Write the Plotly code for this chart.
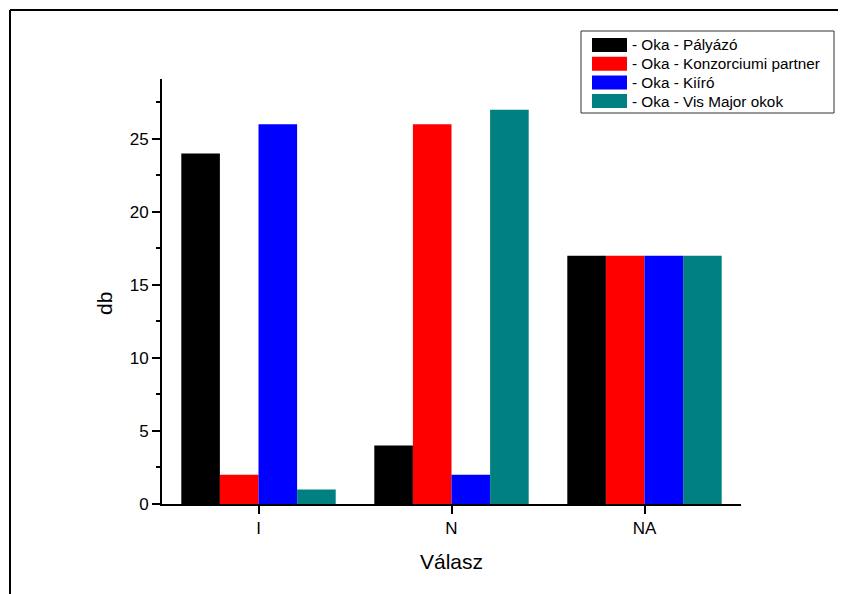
import plotly.graph_objects as go

categories = ["I", "N", "NA"]
series_names = ["- Oka - Pályázó", "- Oka - Konzorciumi partner", "- Oka - Kiíró", "- Oka - Vis Major okok"]
palyazo = [24, 4, 17]
konzorciumi = [2, 26, 17]
kiiro = [26, 2, 17]
vis_major = [1, 27, 17]
series_values = [palyazo, konzorciumi, kiiro, vis_major]
colors = ["#000000", "#FF0000", "#0000FF", "#008080"]
x_title = "Válasz"
y_title = "db"

OFF = 8  # page body margin compensation
W, H = 846 - OFF, 594 - OFF
L, R, T, B = 162 - OFF, 741 - OFF, 79 - OFF, 504 - OFF  # plot area in figure pixels
pw, ph = R - L, B - T

def px(x):
    return (x - OFF - L) / pw

def py(y):
    return (B - (y - OFF)) / ph

FONT = "Arial, Liberation Sans, sans-serif"

fig = go.Figure()
for name, vals, col in zip(series_names, series_values, colors):
    fig.add_trace(go.Bar(x=categories, y=vals, name=name, marker=dict(color=col, line=dict(width=0)),
                         showlegend=False))

shapes = []
annotations = []
# page frame (top and left edges)
shapes.append(dict(type="line", xref="paper", yref="paper", x0=px(10), y0=py(10), x1=px(846), y1=py(10),
                   line=dict(color="black", width=2)))
shapes.append(dict(type="line", xref="paper", yref="paper", x0=px(10), y0=py(10), x1=px(10), y1=py(594),
                   line=dict(color="black", width=2)))
# legend box
shapes.append(dict(type="rect", xref="paper", yref="paper", x0=px(581), y0=py(31), x1=px(834), y1=py(113),
                   line=dict(color="#333333", width=1), fillcolor="white"))
for i, (name, col) in enumerate(zip(series_names, colors)):
    yc = 45 + i * 18.7
    shapes.append(dict(type="rect", xref="paper", yref="paper", x0=px(592), x1=px(627),
                       y0=py(yc - 7), y1=py(yc + 7), line=dict(width=0), fillcolor=col))
    annotations.append(dict(text=name, xref="paper", yref="paper", x=px(630), y=py(yc), xanchor="left",
                            yanchor="middle", showarrow=False, font=dict(family=FONT, size=15.3, color="black")))

annotations.append(dict(text=x_title, xref="paper", yref="paper", x=px(451), y=py(561), xanchor="center",
                        yanchor="middle", showarrow=False, font=dict(family=FONT, size=21, color="black")))
annotations.append(dict(text=y_title, xref="paper", yref="paper", x=px(104), y=py(304), xanchor="center",
                        yanchor="middle", showarrow=False, textangle=-90,
                        font=dict(family=FONT, size=21, color="black")))

fig.update_layout(
    width=W, height=H,
    margin=dict(l=L, r=W - R, t=T, b=H - B, pad=0),
    paper_bgcolor="white", plot_bgcolor="white",
    barmode="group", bargap=0.2, bargroupgap=0,
    font=dict(family=FONT, size=17, color="black"),
    shapes=shapes, annotations=annotations,
    xaxis=dict(range=[-0.5, 2.5], showline=True, linecolor="black", linewidth=2, ticks="outside",
               ticklen=8, tickwidth=2, tickcolor="black", showgrid=False, zeroline=False,
               tickfont=dict(size=17)),
    yaxis=dict(range=[0, 29.1], showline=True, linecolor="black", linewidth=2, ticks="outside",
               ticklen=8, tickwidth=2, tickcolor="black", dtick=5, tick0=0, showgrid=False,
               zeroline=False, tickfont=dict(size=17),
               minor=dict(dtick=2.5, ticks="outside", ticklen=4, tickwidth=2, tickcolor="black", showgrid=False)),
)

fig.write_html("out.html")
